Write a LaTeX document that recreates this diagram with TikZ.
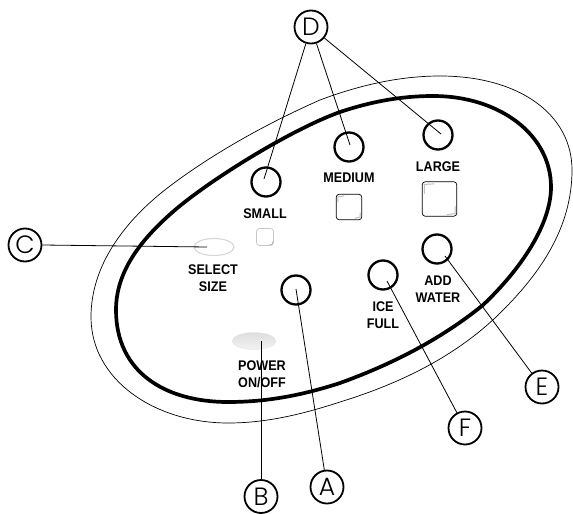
\documentclass[tikz,border=0pt]{standalone}
\usepackage{fontspec}
\usetikzlibrary{shapes.geometric}
\setmainfont{Liberation Sans}[FakeStretch=0.9]
\newfontfamily\lettfont{Poppins Light}
\definecolor{ledgray}{gray}{0.84}
\tikzset{
 x=1pt,y=-1pt,
 callout/.style={circle,draw=black,line width=1.8pt,minimum size=33pt,inner sep=0pt,font=\fontsize{25}{25}\selectfont\lettfont},
 ring/.style={circle,draw=black,line width=2.3pt,minimum size=29pt,inner sep=0pt},
 lbl/.style={font=\fontsize{14}{17.3}\selectfont\bfseries,align=center,inner sep=0pt,text=black},
 leader/.style={draw=black,line width=0.8pt},
 keybox/.style={draw=black,rounded corners=3pt,line width=0.7pt,fill=white,inner sep=0pt},
 shine/.style={draw=black!25,line width=1pt,line cap=round},
}
\begin{document}
\begin{tikzpicture}
\useasboundingbox (0,0) rectangle (573,514);
\draw[line width=0.7pt] (91,317) .. controls (91,265) and (125,220) .. (170,186) .. controls (215,152) and (270,122) .. (320,100) .. controls (360,85) and (400,76) .. (440,76) .. controls (520,76) and (572,115) .. (572,170) .. controls (572,228) and (540,275) .. (495,318) .. controls (450,360) and (395,385) .. (340,402) .. controls (300,415) and (265,423) .. (228,423) .. controls (155,423) and (91,380) .. (91,317) -- cycle;
\draw[line width=3.7pt] (116,310) .. controls (116,272) and (140,240) .. (175,210) .. controls (210,180) and (290,130) .. (340,112) .. controls (370,102) and (400,96) .. (433,96) .. controls (500,96) and (551,135) .. (551,187) .. controls (551,225) and (520,270) .. (483,305) .. controls (440,340) and (390,365) .. (340,383) .. controls (300,396) and (265,402) .. (228,402) .. controls (165,402) and (116,372) .. (116,310) -- cycle;
\node[callout] (D) at (311,27) {D};
\node[callout] (C) at (25,245) {C};
\node[callout] (A) at (327,487) {A};
\node[callout] (B) at (261,496.5) {B};
\node[callout] (F) at (465,428) {F};
\node[callout] (E) at (542,387) {E};
\node[ring] (small) at (266,182) {};
\node[ring] (medium) at (349,147) {};
\node[ring] (large) at (438,135) {};
\node[ring] (addw) at (437,249) {};
\node[ring] (icef) at (383,275) {};
\node[ring] (pw) at (296,290) {};
\node[lbl] at (265,214) {SMALL};
\node[lbl] at (349,178) {MEDIUM};
\node[lbl] at (438,167) {LARGE};
\node[lbl] at (213,278) {SELECT\\SIZE};
\node[lbl] at (262,374) {POWER\\ON/OFF};
\node[lbl] at (383,315) {ICE\\FULL};
\node[lbl] at (438,289) {ADD\\WATER};
\node[keybox,draw=black!22,minimum size=17pt] (k1) at (265,237) {};
\node[keybox,minimum size=25.5pt] (k2) at (349,207) {};
\node[keybox,minimum size=34.5pt] (k3) at (439.5,199) {};
\draw[shine] (k2.south east)+(-2,-7) -- +(-2,-3) -- +(-7,-2);
\draw[shine] (k2.north west)+(2,8) -- +(2,3) -- +(8,2);
\draw[shine] (k3.south east)+(-2,-10) -- +(-2,-3) -- +(-10,-2);
\draw[shine] (k3.north west)+(2.5,12) -- +(2.5,3) -- +(12,2.5);
\draw[shine,line width=0.6pt] (k1.south east)+(-2,-4) -- +(-2,-2) -- +(-4,-2);
\node[ellipse,draw=ledgray,line width=1.1pt,minimum width=40pt,minimum height=17pt,inner sep=0pt] (led1) at (214,247) {};
\node[ellipse,top color=black!13,bottom color=black!5,draw=black!10,minimum width=44pt,minimum height=17pt,inner sep=0pt] (led2) at (254,341) {};
\coordinate (dS) at (264,179);
\coordinate (dM) at (350,145);
\coordinate (dL) at (441,134);
\draw[leader] (D) -- (dS);
\draw[leader] (D) -- (dM);
\draw[leader] (D) -- (dL);
\coordinate (cE) at (207,247);
\draw[leader] (C.east) -- (cE);
\coordinate (aE) at (296,289);
\draw[leader] (A) -- (aE);
\coordinate (bE) at (261,341);
\draw[leader] (B.north) -- (bE);
\coordinate (fE) at (387,281);
\draw[leader] (F) -- (fE);
\coordinate (eE) at (445,256);
\draw[leader] (E) -- (eE);
\end{tikzpicture}
\end{document}
